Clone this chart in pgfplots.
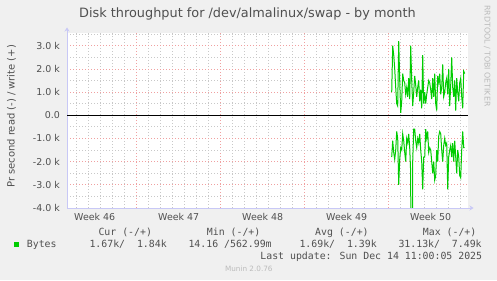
\documentclass[border=0pt]{standalone}
\usepackage{fontspec}
\setmainfont{DejaVu Sans}
\newfontfamily\mono{DejaVu Sans Mono}
\usepackage{pgfplots}
\pgfplotsset{compat=1.18}
\usetikzlibrary{arrows.meta}
\definecolor{bgc}{HTML}{F0F0F0}
\definecolor{txt}{HTML}{505050}
\definecolor{gridc}{HTML}{C8C8C8}
\definecolor{mgridc}{HTML}{F0A0A0}
\definecolor{axisc}{HTML}{C8C8F6}
\definecolor{lgreen}{HTML}{00CC00}
\definecolor{faint}{HTML}{BBBBBB}

\pgfplotstableread{
x y
339 1.0
340 3.0
341 2.6
342 2.0
343 1.2
344 0.5
345 0.4
346 3.2
347 1.5
348 0.1
349 0.6
350 1.8
351 1.5
352 1.4
353 0.9
354 1.2
355 0.8
356 1.6
357 0.7
358 3.0
359 1.5
360 0.4
361 1.0
362 1.7
363 1.3
364 0.8
365 1.2
366 1.5
367 0.6
368 1.1
369 0.3
370 2.6
371 0.5
372 1.0
373 0.5
374 0.9
375 1.2
376 1.5
377 1.4
378 1.1
379 0.7
380 1.6
381 0.8
382 1.8
383 0.5
384 0.2
385 1.7
386 1.4
387 1.8
388 0.9
389 1.2
390 2.2
391 0.8
392 1.0
393 1.4
394 1.6
395 0.9
396 2.0
397 0.4
398 1.3
399 2.5
400 1.2
401 0.8
402 1.5
403 0.2
404 1.6
405 1.0
406 0.6
407 1.4
408 1.6
409 0.8
410 0.3
411 1.9
412 1.8
}\writes

\pgfplotstableread{
x y
339 -1.8
340 -1.1
341 -1.6
342 -1.9
343 -1.5
344 -0.7
345 -1.0
346 -3.0
347 -1.9
348 -1.4
349 -1.5
350 -0.8
351 -1.1
352 -1.6
353 -2.0
354 -1.0
355 -1.2
356 -0.8
357 -1.4
358 -2.5
359 -31.1
360 -2.0
361 -0.6
362 -0.6
363 -1.1
364 -1.4
365 -1.0
366 -1.2
367 -0.8
368 -1.5
369 -2.0
370 -3.2
371 -1.8
372 -1.8
373 -0.6
374 -1.0
375 -0.7
376 -1.6
377 -1.4
378 -1.5
379 -2.0
380 -2.5
381 -2.0
382 -2.8
383 -2.6
384 -1.5
385 -2.0
386 -0.9
387 -0.7
388 -0.8
389 -1.5
390 -2.0
391 -1.3
392 -1.0
393 -1.3
394 -1.2
395 -3.2
396 -1.8
397 -1.5
398 -1.3
399 -1.8
400 -1.2
401 -2.0
402 -1.1
403 -1.8
404 -2.5
405 -1.5
406 -1.8
407 -2.6
408 -2.7
409 -1.5
410 -0.7
411 -1.4
412 -1.4
}\reads

\begin{document}
\begin{tikzpicture}[x=1bp,y=1bp]
\fill[bgc] (0,0) rectangle (497,280);
\useasboundingbox (0,0) rectangle (497,280);
\begin{axis}[
  at={(67bp,72bp)}, anchor=south west,
  scale only axis, width=401bp, height=175bp,
  xmin=14.3, xmax=415.3, ymin=-4, ymax=3.55,
  axis background/.style={fill=white},
  axis x line=bottom, axis y line=left,
  axis line style={draw=axisc, line width=0.8bp, -{Stealth[length=4bp,width=5bp]}, shorten >=-5.5bp},
  tick align=inside, major tick length=0pt, minor tick length=0pt,
  tick style={draw=none},
  xtick={84,168,252,336}, xticklabels={},
  minor xtick={24,36,...,408},
  extra x ticks={42,126,210,294,378},
  extra x tick labels={Week 46,Week 47,Week 48,Week 49,Week 50},
  extra x tick style={grid=none},
  ytick={-4,-3,-2,-1,0,1,2,3},
  yticklabels={-4.0 k,-3.0 k,-2.0 k,-1.0 k,0.0,1.0 k,2.0 k,3.0 k},
  minor ytick={-3.5,-2.5,-1.5,-0.5,0.5,1.5,2.5,3.5},
  grid=both,
  major grid style={draw=mgridc, line width=0.8bp, dash pattern=on 1bp off 2bp},
  minor grid style={draw=gridc, line width=0.8bp, dash pattern=on 1bp off 2bp},
  tick label style={font=\fontsize{9.5}{11}\selectfont, text=txt, inner sep=0pt},
  yticklabel style={anchor=east, xshift=-7bp},
  xticklabel style={anchor=north, yshift=-5.3bp},
  clip=true,
]
\addplot[black, line width=1bp] coordinates {(14.3,0) (415.3,0)};
\addplot[lgreen, line width=1bp] table[x=x,y=y] {\writes};
\addplot[lgreen, line width=1bp] table[x=x,y=y] {\reads};
\end{axis}
% title
\node[anchor=base, inner sep=0pt, text=txt, font=\fontsize{12.9}{14}\selectfont] at (247.5,262.7) {Disk throughput for /dev/almalinux/swap - by month};
% y label
\node[anchor=base, rotate=90, inner sep=0pt, text=txt, font=\fontsize{10}{12}\selectfont] at (14.5,163.7) {Pr second read (-) / write (+)};
% right side credit
\node[anchor=north, rotate=-90, inner sep=0pt, text=faint, font=\fontsize{7.9}{9}\selectfont] at (487.5,221) {};
\node[anchor=base west, rotate=-90, inner sep=0pt, text=faint, font=\fontsize{7.9}{9}\selectfont] at (484.5,275) {RRDTOOL / TOBI OETIKER};
% legend
\begin{scope}[every node/.style={inner sep=0pt, text=txt, font=\mono\fontsize{9.9}{11}\selectfont}]
\node[anchor=base west] at (98.3,44.5) {Cur (-/+)};
\node[anchor=base west] at (206.7,44.5) {Min (-/+)};
\node[anchor=base west] at (315,44.5) {Avg (-/+)};
\node[anchor=base west] at (422.7,44.5) {Max (-/+)};
\fill[lgreen] (14,33) rectangle (19.3,38.3);
\node[anchor=base west] at (26.7,32.5) {Bytes};
\node[anchor=base west] at (89.3,32.5) {1.67k/~~1.84k};
\node[anchor=base west] at (188.3,32.5) {14.16 /562.99m};
\node[anchor=base west] at (299.3,32.5) {1.69k/~~1.39k};
\node[anchor=base west] at (398.3,32.5) {31.13k/~~7.49k};
\node[anchor=base east] at (482.3,20.5) {Last update: Sun Dec 14 11:00:05 2025};
\end{scope}
\node[anchor=base, inner sep=0pt, text=faint, font=\fontsize{7.3}{9}\selectfont] at (248.8,8.5) {Munin 2.0.76};
\end{tikzpicture}
\end{document}
